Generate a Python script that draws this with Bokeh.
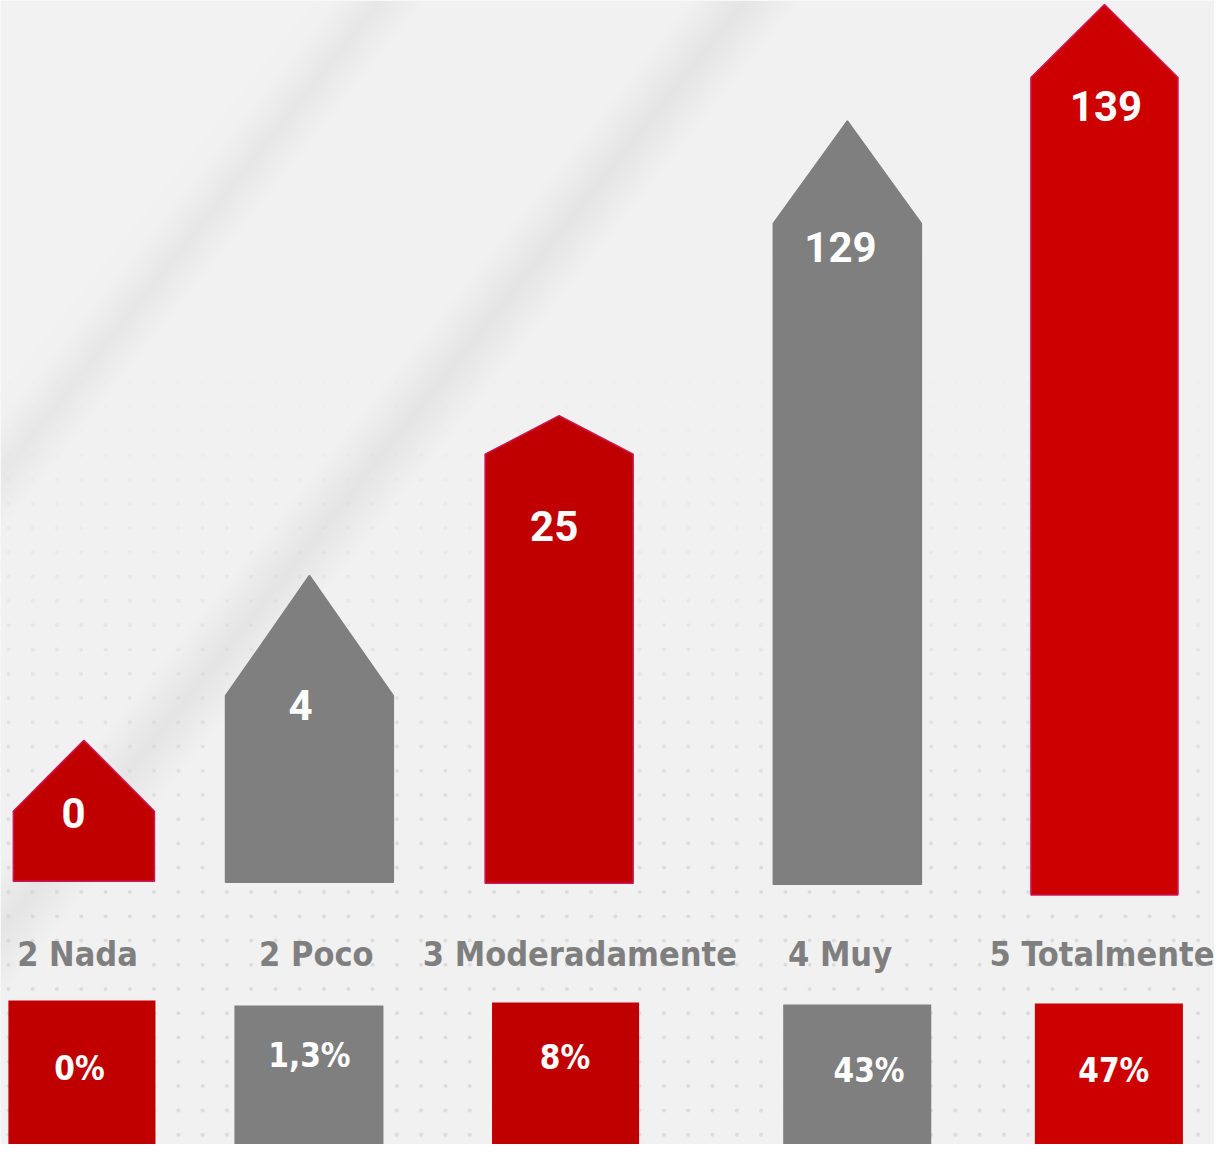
import numpy as np
from bokeh.plotting import figure
from bokeh.models import Range1d
from bokeh.core.properties import value
from bokeh.embed import file_html
from bokeh.resources import INLINE

# ---------------- data ----------------
categories = ["2 Nada", "2 Poco", "3 Moderadamente", "4  Muy", "5 Totalmente"]
counts = [0, 4, 25, 129, 139]
percent_labels = ["0%", "1,3%", "8%", "43%", "47%"]

# displayed arrow levels of the infographic (shoulder and tip), in chart units
arrow_shoulder = [71, 188, 433, 667, 815]
arrow_tip = [143, 310, 472, 771, 889]

# ---------------- layout / style ----------------
bar_x = [84.5, 313, 566, 858, 1118.5]
bar_w = [143, 170, 150, 150, 149]
bar_base = [0, -1, -2, -3, -14]
bar_color = ["#c00000", "#7f7f7f", "#c00000", "#7f7f7f", "#cc0000"]
bar_line = ["#c8175a", "#7f7f7f", "#c8175a", "#7f7f7f", "#d0175a"]

count_x = [74, 304, 561, 851, 1120]
count_y = [69, 179, 360, 643, 786]

cat_x = [78, 320, 587, 856, 1116]
cat_y = -74

box_x = [82.5, 312.5, 572.5, 868, 1123]
box_w = [149, 151, 149, 150, 150]
box_top = [-121, -126, -123, -125, -124]
box_color = ["#c00000", "#7f7f7f", "#c00000", "#7f7f7f", "#cc0000"]
pct_x = [80, 313, 572, 880, 1128]
pct_y = [-190, -177, -179, -192, -192]

BG = "#f1f1f1"
W, H = 1214, 1144

p = figure(width=W, height=H, x_range=Range1d(0, 1230), y_range=Range1d(893 - 1160, 893),
           output_backend="svg", toolbar_location=None, min_border=0,
           background_fill_color=BG, border_fill_color=BG, outline_line_color=None)
p.axis.visible = False
p.grid.visible = False

# ---- background decoration: soft diagonal shading ----
def pix(pts):
    return [x for x, y in pts], [893 - y for x, y in pts]

for k in range(8):
    hx, hy = pix([(0, 0), (320 - 30 * k, 0), (0, 400 - 38 * k)])
    p.patch(hx, hy, fill_color="white", fill_alpha=0.07, line_color=None)

def band(x0, w, L, s=0.8):
    return [(x0, 0), (x0 + w, 0), (x0 + w - s * L, L), (x0 - s * L, L)]

for x0, L, wd in [(340, 700, 90), (700, 1000, 110)]:
    for o in range(0, wd, 9):
        bx, by = pix(band(x0 + o / 2, wd - o, L))
        p.patch(bx, by, fill_color="black", fill_alpha=0.0045, line_color=None)

# ---- dot grid ----
gx = np.arange(8, 1230, 24.6)
gy = np.arange(1150, 380, -24.6)
dx, dy, da = [], [], []
for yy in gy:
    a = float(np.clip((yy - 380) / 500, 0.05, 1.0))
    for xx in gx:
        dx.append(xx)
        dy.append(893 - yy)
        da.append(a * 0.6)
p.scatter(dx, dy, size=4, fill_color="#cfcfcf", fill_alpha=da, line_color=None)

# ---- arrow-shaped bars ----
xs, ys = [], []
for cx, w, b, s, t in zip(bar_x, bar_w, bar_base, arrow_shoulder, arrow_tip):
    l, r = cx - w / 2, cx + w / 2
    xs.append([l, l, cx, r, r])
    ys.append([b, s, t, s, b])
p.patches(xs, ys, fill_color=bar_color, line_color=bar_line, line_width=1.5)

# ---- count labels ----
p.text(x=count_x, y=count_y, text=[str(c) for c in counts],
       text_font=value("Roboto"), text_font_style="bold", text_font_size="42px",
       text_color="white", text_align="center", text_baseline="middle")

# ---- category labels ----
p.text(x=cat_x, y=[cat_y] * 5, text=categories,
       text_font=value("DejaVu Sans Condensed"),
       text_font_style="bold", text_font_size="34px",
       text_color="#7f7f7f", text_align="center", text_baseline="middle")

# ---- percentage boxes ----
p.quad(left=[c - w / 2 for c, w in zip(box_x, box_w)],
       right=[c + w / 2 for c, w in zip(box_x, box_w)],
       top=box_top, bottom=[-300] * 5, fill_color=box_color, line_color=None)
p.text(x=pct_x, y=pct_y, text=percent_labels,
       text_font=value("DejaVu Sans Condensed"),
       text_font_style="bold", text_font_size="33px",
       text_color="white", text_align="center", text_baseline="middle")

open("out.html", "w").write(file_html(p, INLINE))
